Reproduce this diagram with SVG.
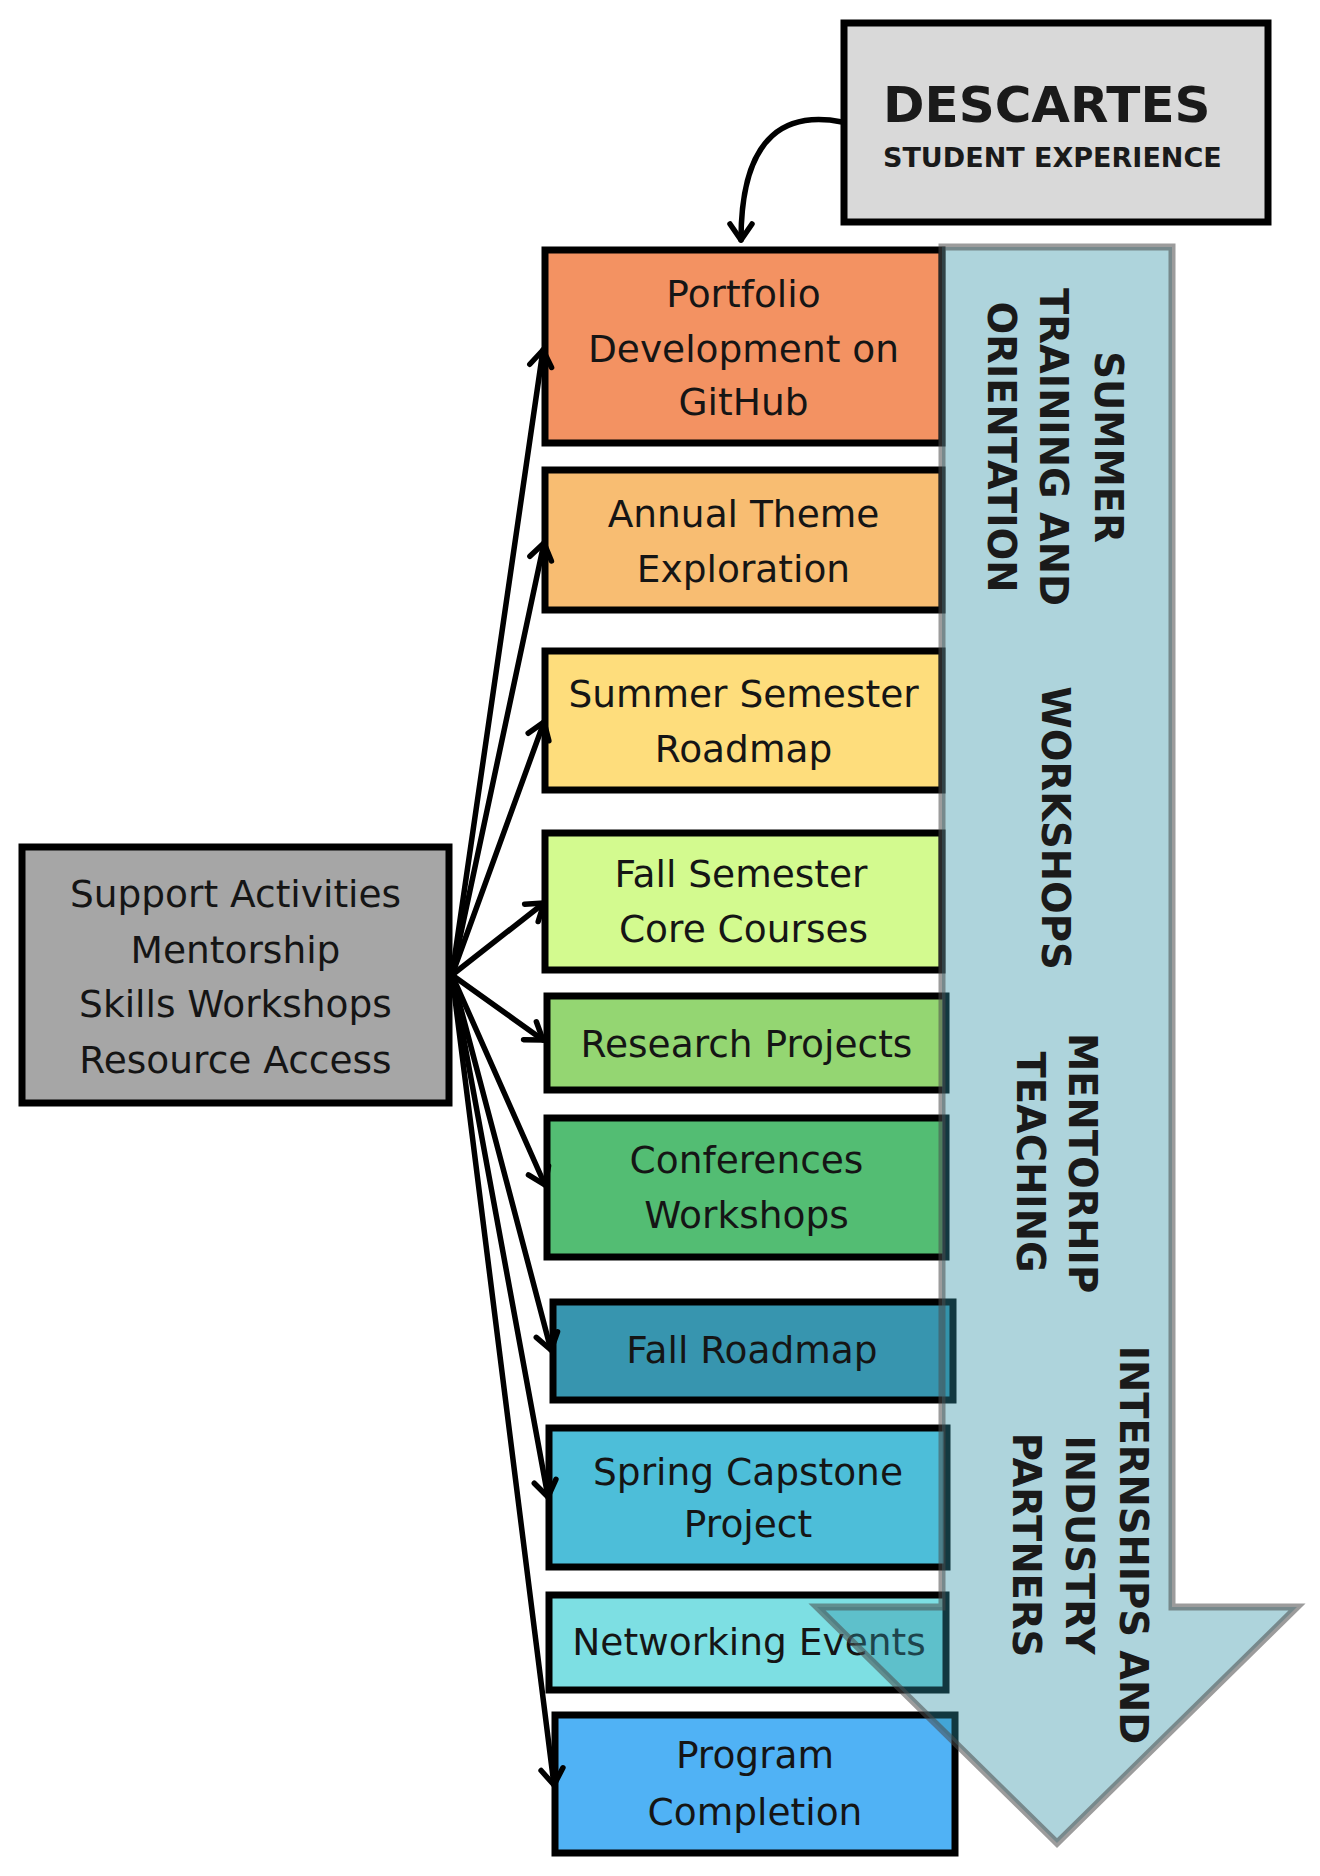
<svg xmlns="http://www.w3.org/2000/svg" width="1320" height="1876" viewBox="0 0 1320 1876">
<style>
.box{stroke:#000;stroke-width:7}
.t{font-family:"DejaVu Sans",sans-serif;font-size:37.5px;fill:#151515;text-anchor:middle}
.v{font-family:"DejaVu Sans",sans-serif;font-weight:bold;font-size:38.5px;fill:#1a1a1a;text-anchor:middle}
.h{font-family:"DejaVu Sans",sans-serif;font-weight:bold;fill:#1a1a1a}
.c{fill:none;stroke:#000;stroke-width:5.5;stroke-linecap:round}
</style>
<defs>
<marker id="ah" markerUnits="userSpaceOnUse" markerWidth="40" markerHeight="40" viewBox="-20 -20 40 40" refX="0" refY="0" orient="auto">
<path d="M -16 -11 L 0 0 L -16 11" fill="none" stroke="#000" stroke-width="5.5" stroke-linecap="round" stroke-linejoin="round"/>
</marker>
</defs>
<rect width="1320" height="1876" fill="#fff"/>

<g id="descartes">
<rect class="box" x="844" y="23" width="424" height="199" fill="#d9d9d9"/>
<text class="h" x="883" y="122" font-size="50">DESCARTES</text>
<text class="h" x="883" y="167" font-size="27">STUDENT EXPERIENCE</text>
</g>

<g id="support">
<rect class="box" x="22" y="847" width="427" height="256" fill="#a6a6a6"/>
<text class="t" x="235.5" y="907">Support Activities</text>
<text class="t" x="235.5" y="963">Mentorship</text>
<text class="t" x="235.5" y="1017">Skills Workshops</text>
<text class="t" x="235.5" y="1073">Resource Access</text>
</g>

<g id="portfolio">
<rect class="box" x="545" y="250" width="397" height="193" fill="#f39262"/>
<text class="t" x="743.5" y="307">Portfolio</text>
<text class="t" x="743.5" y="362">Development on</text>
<text class="t" x="743.5" y="415">GitHub</text>
</g>

<g id="annual-theme">
<rect class="box" x="545" y="470" width="397" height="140" fill="#f8bd72"/>
<text class="t" x="743.5" y="527">Annual Theme</text>
<text class="t" x="743.5" y="582">Exploration</text>
</g>

<g id="summer-semester">
<rect class="box" x="545" y="651" width="397" height="139" fill="#fedd7c"/>
<text class="t" x="743.5" y="707">Summer Semester</text>
<text class="t" x="743.5" y="762">Roadmap</text>
</g>

<g id="fall-semester">
<rect class="box" x="545" y="833" width="397" height="137" fill="#d3fa8f"/>
<text class="t" x="741" y="887">Fall Semester</text>
<text class="t" x="743.5" y="942">Core Courses</text>
</g>

<g id="research">
<rect class="box" x="547" y="996" width="399" height="94" fill="#94d672"/>
<text class="t" x="746.5" y="1057">Research Projects</text>
</g>

<g id="conferences">
<rect class="box" x="547" y="1118" width="399" height="139" fill="#53bd73"/>
<text class="t" x="746.5" y="1173">Conferences</text>
<text class="t" x="746.5" y="1228">Workshops</text>
</g>

<g id="fall-roadmap">
<rect class="box" x="553" y="1302" width="400" height="98" fill="#3795af"/>
<text class="t" x="752" y="1363">Fall Roadmap</text>
</g>

<g id="spring-capstone">
<rect class="box" x="549" y="1428" width="398" height="139" fill="#4dbed9"/>
<text class="t" x="748" y="1485">Spring Capstone</text>
<text class="t" x="748" y="1537">Project</text>
</g>

<g id="networking">
<rect class="box" x="549" y="1595" width="397" height="95" fill="#7ddfe3"/>
<text class="t" x="749" y="1655">Networking Events</text>
</g>

<g id="program-completion">
<rect class="box" x="555" y="1715" width="400" height="138" fill="#50b2f5"/>
<text class="t" x="755" y="1768">Program</text>
<text class="t" x="755" y="1825">Completion</text>
</g>

<g id="connectors">
<path class="c" d="M 842 122 C 790 112, 741 130, 741 240" marker-end="url(#ah)"/>
<path class="c" d="M 452 975 L 543 350" marker-end="url(#ah)"/>
<path class="c" d="M 452 975 L 544 543" marker-end="url(#ah)"/>
<path class="c" d="M 452 975 L 544 722" marker-end="url(#ah)"/>
<path class="c" d="M 452 975 L 544 903" marker-end="url(#ah)"/>
<path class="c" d="M 452 975 L 543 1040" marker-end="url(#ah)"/>
<path class="c" d="M 452 975 L 545 1185" marker-end="url(#ah)"/>
<path class="c" d="M 452 975 L 551 1350" marker-end="url(#ah)"/>
<path class="c" d="M 452 975 L 548 1497" marker-end="url(#ah)"/>
<path class="c" d="M 452 975 L 554 1785" marker-end="url(#ah)"/>
</g>

<g id="phases">
<polygon points="942,247 1172,247 1172,1607 1297,1607 1057,1843 817,1607 942,1607" fill="#2f91a5" fill-opacity="0.39"/>
<polygon points="942,247 1172,247 1172,1607 1297,1607 1057,1843 817,1607 942,1607" fill="none" stroke="#4a4a4a" stroke-opacity="0.55" stroke-width="7"/>
<text class="v" transform="translate(1095,447) rotate(90)">SUMMER</text>
<text class="v" transform="translate(1040,447) rotate(90)">TRAINING AND</text>
<text class="v" transform="translate(988,447) rotate(90)">ORIENTATION</text>
<text class="v" transform="translate(1042,828) rotate(90)">WORKSHOPS</text>
<text class="v" transform="translate(1069,1163) rotate(90)">MENTORHIP</text>
<text class="v" transform="translate(1017,1162) rotate(90)">TEACHING</text>
<text class="v" transform="translate(1120,1545) rotate(90)">INTERNSHIPS AND</text>
<text class="v" transform="translate(1066,1545) rotate(90)">INDUSTRY</text>
<text class="v" transform="translate(1013,1545) rotate(90)">PARTNERS</text>
</g>
</svg>
